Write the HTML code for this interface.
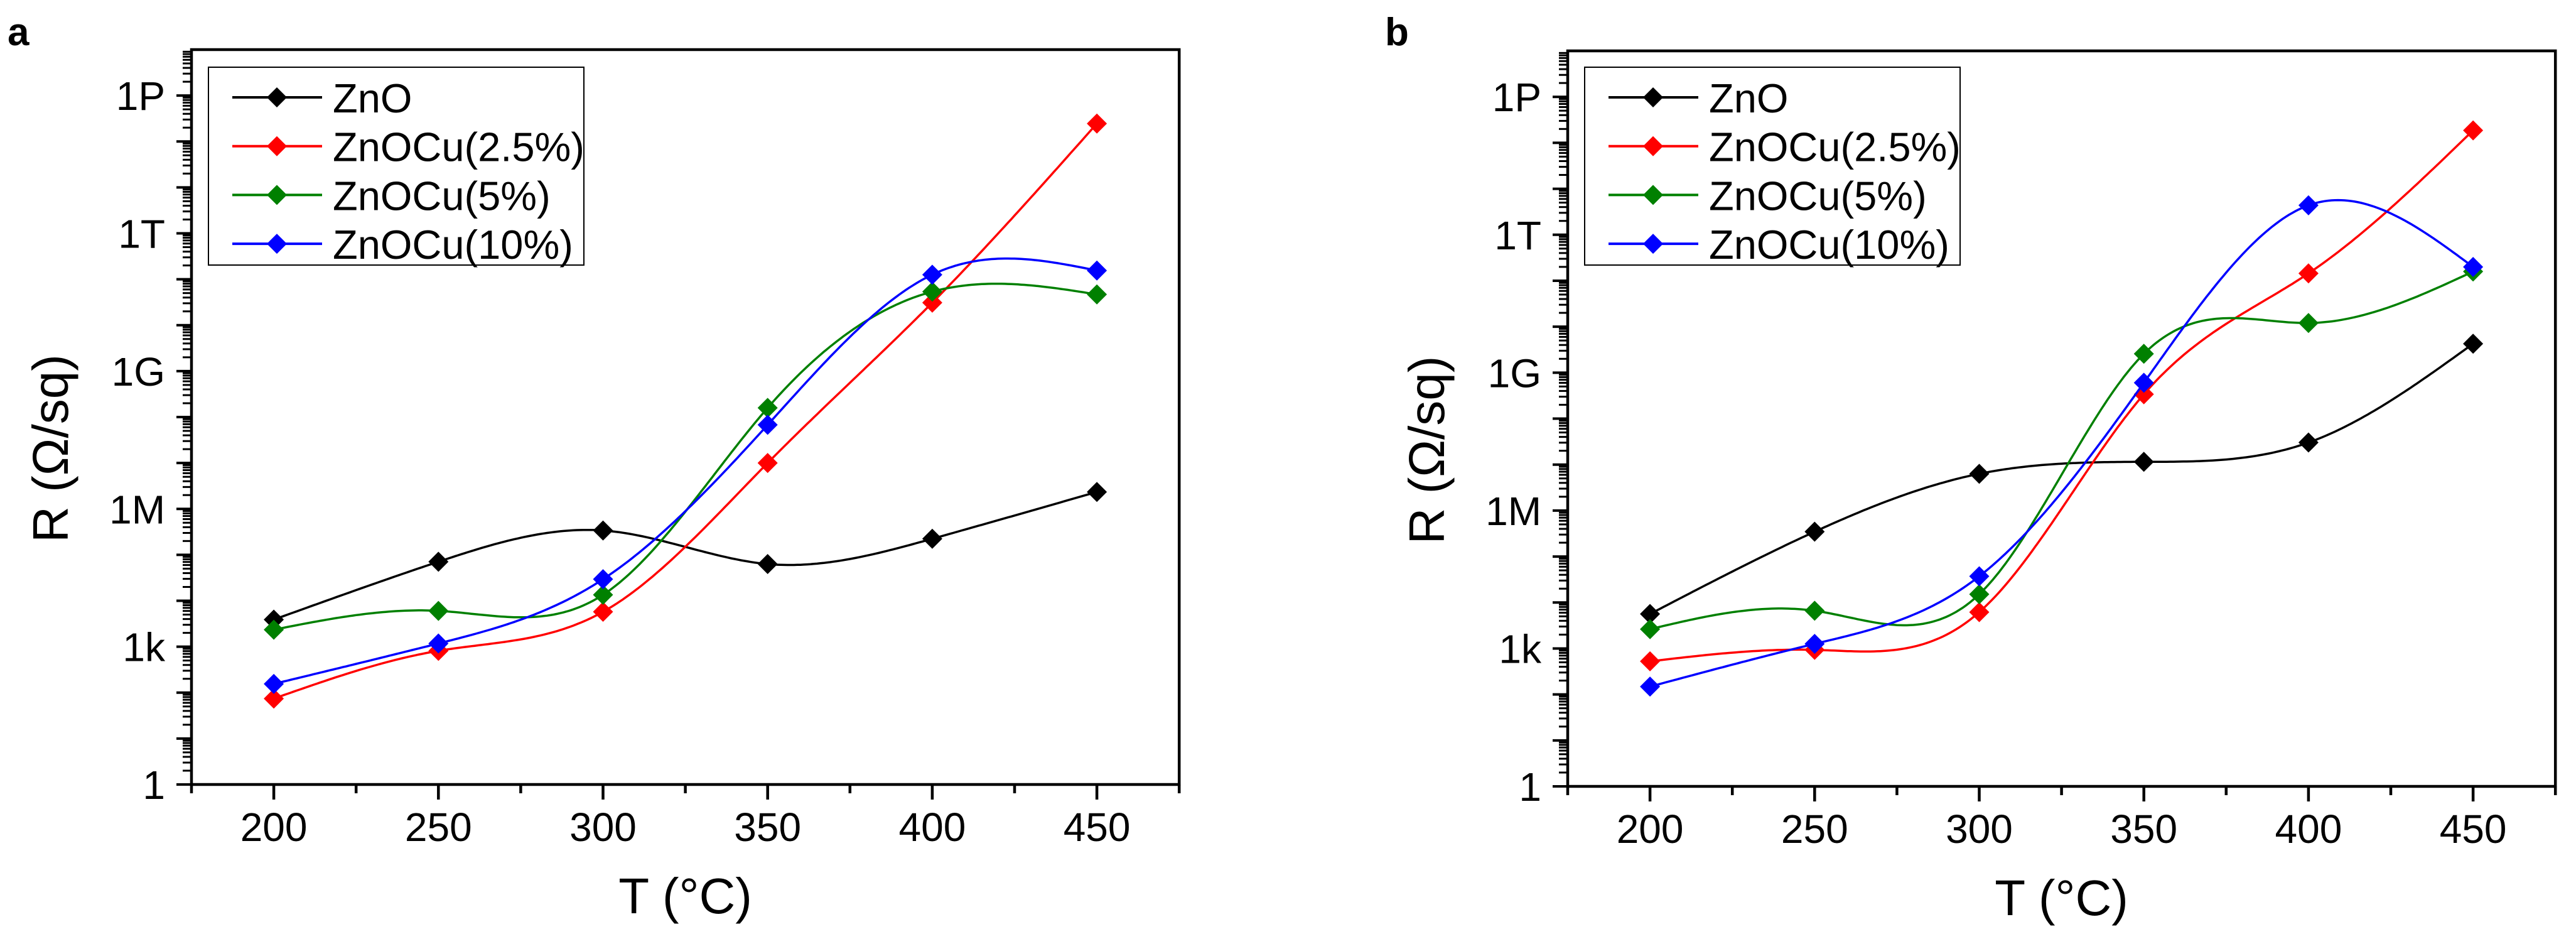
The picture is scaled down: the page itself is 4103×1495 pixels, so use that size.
<!DOCTYPE html>
<html><head><meta charset="utf-8">
<style>
html,body{margin:0;padding:0;background:#fff;}
svg{display:block;font-family:"Liberation Sans",Arial,sans-serif;}
</style></head>
<body>
<svg id="fig" width="4103" height="1495" viewBox="0 0 4103 1495" xmlns="http://www.w3.org/2000/svg"></svg>
<script>
// ---- data ----
const temps = [200, 250, 300, 350, 400, 450];
const seriesNames = ["ZnO", "ZnOCu(2.5%)", "ZnOCu(5%)", "ZnOCu(10%)"];
const seriesColors = ["#000000", "#ff0000", "#008000", "#0000ff"];
// log10(R) values, panel a
const aZnO = [3.59, 4.85, 5.53, 4.80, 5.35, 6.37];
const aCu25 = [1.87, 2.91, 3.76, 7.00, 10.49, 14.39];
const aCu5 = [3.37, 3.78, 4.13, 8.20, 10.73, 10.67];
const aCu10 = [2.19, 3.07, 4.47, 7.83, 11.10, 11.19];
// log10(R) values, panel b
const bZnO = [3.75, 5.54, 6.80, 7.06, 7.48, 9.63];
const bCu25 = [2.72, 2.97, 3.79, 8.53, 11.16, 14.27];
const bCu5 = [3.42, 3.82, 4.18, 9.41, 10.08, 11.20];
const bCu10 = [2.17, 3.10, 4.57, 8.78, 12.64, 11.30];
const xTickLabels = ["200", "250", "300", "350", "400", "450"];
const yTickLabels = ["1", "1k", "1M", "1G", "1T", "1P"];
const yTickExps = [0, 3, 6, 9, 12, 15];

const NS = "http://www.w3.org/2000/svg";
const svg = document.getElementById("fig");
function mk(tag, attrs, parent) {
  const e = document.createElementNS(NS, tag);
  for (const k in attrs) e.setAttribute(k, attrs[k]);
  (parent || svg).appendChild(e);
  return e;
}
function spline(xs, ys) {
  const n = xs.length, h = [], al = [], l = [1], mu = [0], z = [0], c = new Array(n).fill(0), b = [], d = [];
  for (let i = 0; i < n - 1; i++) h.push(xs[i + 1] - xs[i]);
  for (let i = 1; i < n - 1; i++) al[i] = 3 / h[i] * (ys[i + 1] - ys[i]) - 3 / h[i - 1] * (ys[i] - ys[i - 1]);
  for (let i = 1; i < n - 1; i++) {
    l[i] = 2 * (xs[i + 1] - xs[i - 1]) - h[i - 1] * mu[i - 1];
    mu[i] = h[i] / l[i];
    z[i] = (al[i] - h[i - 1] * z[i - 1]) / l[i];
  }
  l[n - 1] = 1; z[n - 1] = 0;
  for (let j = n - 2; j >= 0; j--) {
    c[j] = z[j] - mu[j] * c[j + 1];
    b[j] = (ys[j + 1] - ys[j]) / h[j] - h[j] * (c[j + 1] + 2 * c[j]) / 3;
    d[j] = (c[j + 1] - c[j]) / (3 * h[j]);
  }
  return function (x) {
    let j = 0;
    while (j < n - 2 && x > xs[j + 1]) j++;
    const t = x - xs[j];
    return ys[j] + b[j] * t + c[j] * t * t + d[j] * t * t * t;
  };
}

function panel(opt) {
  const g = mk("g", {});
  
  
  const L = opt.left, B = opt.bottom, T = opt.top;
  const ppu = 5.244, R = L + 300 * ppu;
  const ppd = (B - T) / 16.0;
  const X = v => L + (v - 175) * ppu;
  const Y = e => B - e * ppd;

  const lt = mk("text", {x: opt.letterX, y: 72, "font-size": 62, "font-weight": "bold"}, g);
  lt.textContent = opt.letter;
  
  

  const datasets = opt.data;
  for (let s = 0; s < datasets.length; s++) {
    const vals = datasets[s];
    const f = spline(temps, vals);
    let d = "";
    for (let x = temps[0]; x <= temps[temps.length - 1] + 0.01; x += 1) {
      d += (d ? "L" : "M") + X(x).toFixed(1) + "," + Y(f(x)).toFixed(1);
    }
    const p = mk("path", {d: d, fill: "none", stroke: seriesColors[s], "stroke-width": 3.5}, g);
    
    
    for (let i = 0; i < temps.length; i++) {
      const cx = X(temps[i]), cy = Y(vals[i]);
      const m = mk("polygon", {points: `${cx},${cy - 16} ${cx + 16},${cy} ${cx},${cy + 16} ${cx - 16},${cy}`, fill: seriesColors[s]}, g);
      
      
    }
  }

  const fr = mk("rect", {x: L, y: T, width: R - L, height: B - T, fill: "none", stroke: "#000", "stroke-width": 4.5}, g);
  
  

  for (let v = 175; v <= 475; v += 25) {
    const major = (v % 50 === 0);
    const t = mk("line", {x1: X(v), x2: X(v), y1: B, y2: B + (major ? 24 : 14), stroke: "#000", "stroke-width": 4.5}, g);
    
    
  }
  for (let i = 0; i < temps.length; i++) {
    const tx = mk("text", {x: X(temps[i]), y: B + 90, "font-size": 64, "text-anchor": "middle"}, g);
    tx.textContent = xTickLabels[i];
    
    
  }
  for (let e = 0; e < 16; e++) {
    const t = mk("line", {x1: L, x2: L - 24, y1: Y(e), y2: Y(e), stroke: "#000", "stroke-width": 4}, g);
    
    
    for (let k = 2; k <= 9; k++) {
      const yy = Y(e + Math.log10(k));
      if (yy < T) continue;
      const mt = mk("line", {x1: L, x2: L - 14, y1: yy, y2: yy, stroke: "#000", "stroke-width": 3}, g);
      
      
    }
  }
  for (let i = 0; i < yTickLabels.length; i++) {
    const ty = mk("text", {x: L - 42, y: Y(yTickExps[i]) + 23, "font-size": 64, "text-anchor": "end"}, g);
    ty.textContent = yTickLabels[i];
    
    
  }
  const xt = mk("text", {x: (L + R) / 2, y: B + 205, "font-size": 80, "text-anchor": "middle"}, g);
  xt.textContent = "T (°C)";
  
  
  const yx = L - 197, yc = (T + B) / 2 + 50;
  const yt = mk("text", {x: yx, y: yc, "font-size": 80, "text-anchor": "middle", transform: `rotate(-90 ${yx} ${yc})`}, g);
  yt.textContent = "R (Ω/sq)";
  
  

  const lg = mk("g", {}, g);
  
  
  const lx = L + 27, ly = 107;
  mk("rect", {x: lx, y: ly, width: 598, height: 315, fill: "#fff", stroke: "#000", "stroke-width": 2}, lg);
  for (let s = 0; s < seriesNames.length; s++) {
    const ey = 155 + s * 77.7;
    const e = mk("g", {}, lg);
    
    
    mk("line", {x1: lx + 38, x2: lx + 181, y1: ey, y2: ey, stroke: seriesColors[s], "stroke-width": 4}, e);
    const cx = lx + 109;
    mk("polygon", {points: `${cx},${ey - 16} ${cx + 16},${ey} ${cx},${ey + 16} ${cx - 16},${ey}`, fill: seriesColors[s]}, e);
    const et = mk("text", {x: lx + 198, y: ey + 24, "font-size": 65}, e);
    et.textContent = seriesNames[s];
  }
}

panel({name: "panel-a", letter: "a", letterX: 12, left: 305, bottom: 1249, top: 79,
  data: [aZnO, aCu25, aCu5, aCu10]});
panel({name: "panel-b", letter: "b", letterX: 2206, left: 2497, bottom: 1252, top: 81,
  data: [bZnO, bCu25, bCu5, bCu10]});
</script>
</body></html>
